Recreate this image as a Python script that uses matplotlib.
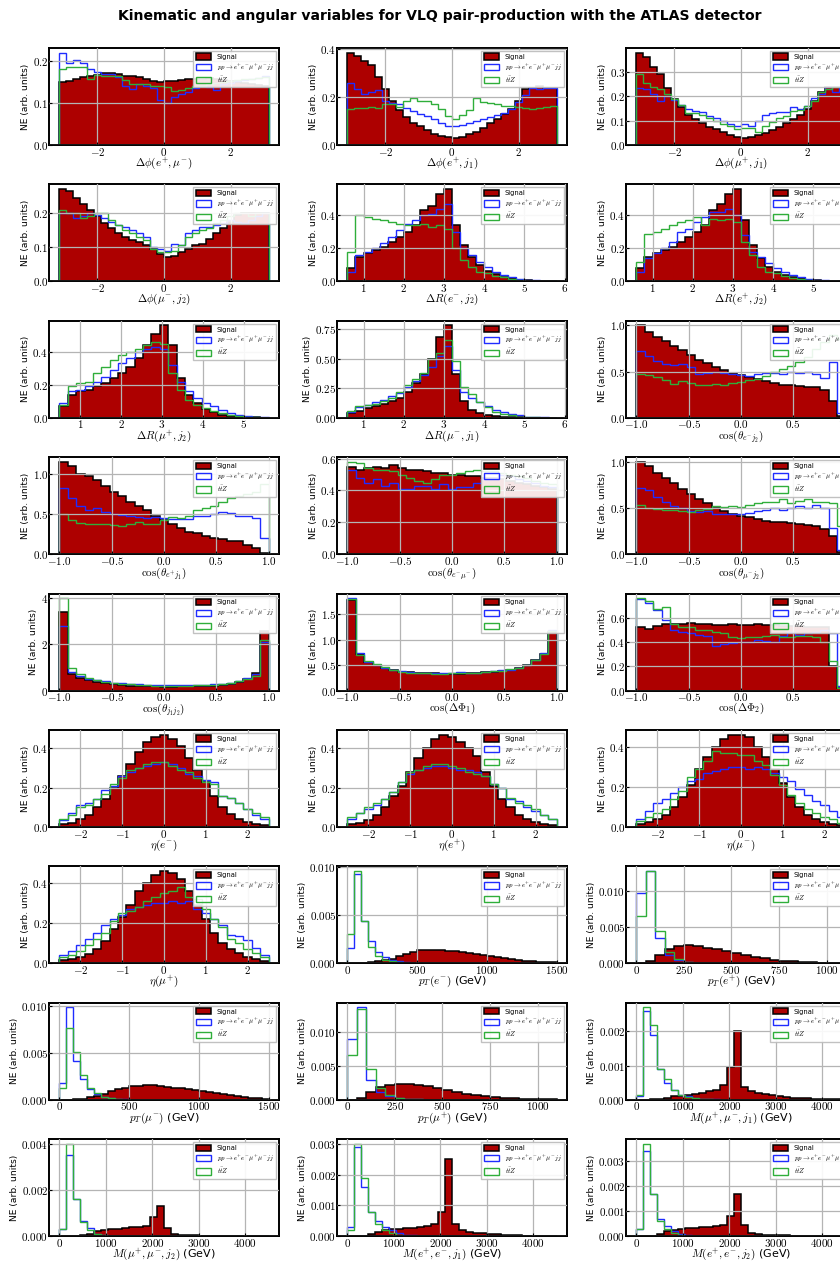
import numpy as np
import matplotlib
matplotlib.use("Agg")
import matplotlib.pyplot as plt
import matplotlib.ticker as mticker

plt.rcParams["mathtext.fontset"] = "cm"
plt.rcParams["font.family"] = "DejaVu Sans"

# ---------------------------------------------------------------- data
# Delta phi (30 bins on [-pi, pi])
sig_dphi_ep_mum = [0.149,0.153,0.158,0.161,0.165,0.166,0.172,0.172,0.170,0.165,0.165,0.161,0.157,0.153,0.150,
                   0.153,0.153,0.155,0.157,0.157,0.158,0.160,0.158,0.155,0.152,0.150,0.148,0.145,0.143,0.140]
zz_dphi_ep_mum = [0.220,0.196,0.202,0.196,0.180,0.174,0.170,0.169,0.161,0.141,0.133,0.145,0.140,0.135,0.108,
                  0.100,0.114,0.122,0.127,0.135,0.141,0.138,0.132,0.145,0.148,0.152,0.155,0.158,0.160,0.165]
ttz_dphi_ep_mum = [0.180,0.185,0.186,0.185,0.157,0.167,0.165,0.165,0.165,0.155,0.145,0.145,0.145,0.140,0.140,
                   0.138,0.129,0.130,0.135,0.140,0.140,0.145,0.148,0.150,0.152,0.155,0.157,0.158,0.160,0.162]

sig_dphi_ep_j1 = [0.386,0.372,0.352,0.334,0.283,0.234,0.182,0.145,0.117,0.094,0.080,0.062,0.048,0.039,0.032,
                  0.030,0.034,0.044,0.055,0.072,0.090,0.110,0.131,0.152,0.182,0.234,0.240,0.245,0.240,0.240]
zz_dphi_ep_j1 = [0.260,0.235,0.215,0.220,0.230,0.185,0.175,0.170,0.155,0.140,0.130,0.120,0.110,0.090,0.080,
                 0.080,0.085,0.090,0.100,0.110,0.115,0.125,0.135,0.150,0.180,0.210,0.240,0.235,0.240,0.240]
ttz_dphi_ep_j1 = [0.150,0.155,0.155,0.160,0.155,0.170,0.170,0.160,0.185,0.195,0.185,0.185,0.170,0.150,0.120,
                  0.110,0.125,0.145,0.195,0.180,0.175,0.170,0.165,0.165,0.160,0.155,0.150,0.155,0.160,0.165]

sig_dphi_mup_j1 = [0.380,0.360,0.320,0.290,0.235,0.190,0.155,0.125,0.105,0.090,0.075,0.065,0.052,0.042,0.033,
                   0.030,0.032,0.040,0.050,0.062,0.075,0.090,0.105,0.125,0.150,0.180,0.220,0.240,0.240,0.240]
zz_dphi_mup_j1 = [0.235,0.230,0.210,0.180,0.200,0.185,0.165,0.150,0.140,0.135,0.120,0.110,0.100,0.085,0.080,
                  0.085,0.080,0.100,0.125,0.130,0.135,0.135,0.155,0.150,0.160,0.195,0.210,0.240,0.220,0.240]
ttz_dphi_mup_j1 = [0.290,0.255,0.240,0.230,0.210,0.190,0.165,0.130,0.130,0.125,0.110,0.100,0.085,0.080,0.065,
                   0.070,0.070,0.055,0.080,0.095,0.110,0.120,0.140,0.145,0.160,0.180,0.220,0.230,0.240,0.240]

sig_dphi_mum_j2 = [0.270,0.265,0.245,0.225,0.210,0.190,0.170,0.155,0.140,0.130,0.120,0.115,0.105,0.095,0.080,
                   0.072,0.075,0.085,0.095,0.105,0.110,0.125,0.140,0.155,0.175,0.195,0.200,0.200,0.200,0.200]
zz_dphi_mum_j2 = [0.200,0.200,0.185,0.190,0.200,0.195,0.185,0.175,0.165,0.160,0.150,0.140,0.130,0.100,0.095,
                  0.090,0.110,0.105,0.140,0.150,0.160,0.160,0.165,0.170,0.180,0.175,0.170,0.180,0.190,0.200]
ttz_dphi_mum_j2 = [0.210,0.200,0.200,0.185,0.190,0.200,0.200,0.180,0.165,0.150,0.140,0.130,0.120,0.095,0.085,
                   0.085,0.090,0.105,0.130,0.140,0.150,0.155,0.170,0.180,0.190,0.200,0.200,0.190,0.200,0.200]

# Delta R
sig_dr_em_j2 = [0.08,0.15,0.17,0.19,0.21,0.24,0.27,0.30,0.34,0.43,0.46,0.53,0.56,
                0.34,0.22,0.15,0.10,0.064,0.044,0.028,0.018,0.010,0.006,0.003,0.002,0.001]
zz_dr_em_j2 = [0.06,0.16,0.18,0.20,0.23,0.27,0.31,0.35,0.37,0.40,0.41,0.44,0.47,
               0.30,0.20,0.16,0.12,0.09,0.06,0.04,0.025,0.015,0.010,0.006,0.003,0.002]
ttz_dr_em_j2 = [0.18,0.40,0.39,0.38,0.37,0.36,0.35,0.34,0.34,0.35,0.33,0.34,0.32,
                0.20,0.13,0.09,0.06,0.05,0.035,0.025,0.015,0.010,0.005,0.003,0.002,0.001]

sig_dr_ep_j2 = [0.08,0.15,0.17,0.19,0.21,0.24,0.27,0.30,0.34,0.43,0.47,0.53,0.56,
                0.37,0.22,0.14,0.09,0.06,0.04,0.028,0.018,0.010,0.006,0.004,0.002,0.001]
zz_dr_ep_j2 = [0.06,0.14,0.17,0.20,0.24,0.30,0.32,0.36,0.39,0.42,0.42,0.44,0.40,
               0.28,0.18,0.15,0.11,0.08,0.06,0.04,0.025,0.015,0.010,0.006,0.003,0.002]
ttz_dr_ep_j2 = [0.12,0.29,0.30,0.32,0.34,0.36,0.37,0.39,0.34,0.38,0.37,0.38,0.36,
                0.24,0.16,0.09,0.06,0.05,0.03,0.02,0.015,0.010,0.005,0.003,0.002,0.001]

sig_dr_mup_j2 = [0.07,0.14,0.16,0.17,0.19,0.21,0.24,0.27,0.31,0.36,0.44,0.51,0.56,
                 0.44,0.24,0.14,0.09,0.055,0.035,0.020,0.012,0.007,0.004,0.002,0.001]
zz_dr_mup_j2 = [0.09,0.16,0.17,0.19,0.22,0.25,0.29,0.33,0.36,0.40,0.42,0.43,0.42,
                0.32,0.22,0.16,0.12,0.09,0.07,0.05,0.03,0.015,0.008,0.005,0.002]
ttz_dr_mup_j2 = [0.08,0.19,0.21,0.22,0.27,0.31,0.35,0.38,0.40,0.42,0.44,0.46,0.45,
                 0.27,0.17,0.11,0.08,0.06,0.04,0.03,0.02,0.012,0.006,0.003,0.001]

sig_dr_mum_j1 = [0.04,0.06,0.08,0.10,0.12,0.14,0.17,0.22,0.29,0.37,0.50,0.68,0.78,
                 0.37,0.14,0.07,0.04,0.025,0.015,0.010,0.006,0.004,0.002,0.001,0.0005,0.0]
zz_dr_mum_j1 = [0.05,0.09,0.11,0.13,0.15,0.18,0.21,0.26,0.31,0.36,0.43,0.52,0.61,
                0.40,0.22,0.17,0.13,0.10,0.07,0.05,0.03,0.02,0.01,0.005,0.003,0.001]
ttz_dr_mum_j1 = [0.06,0.10,0.11,0.12,0.14,0.17,0.22,0.28,0.33,0.38,0.50,0.55,0.66,
                 0.48,0.26,0.20,0.13,0.09,0.05,0.035,0.02,0.01,0.006,0.003,0.001,0.0]

# cosines (25 bins on [-1, 1])
sig_cos_em_j2 = [1.00,0.93,0.87,0.83,0.78,0.73,0.68,0.63,0.59,0.55,0.52,0.49,0.46,0.44,0.42,0.40,0.38,0.36,
                 0.35,0.34,0.33,0.33,0.30,0.18,0.02]
zz_cos_em_j2 = [0.72,0.67,0.62,0.58,0.57,0.58,0.55,0.47,0.48,0.50,0.49,0.47,0.46,0.45,0.47,0.48,0.48,0.47,
                0.50,0.49,0.50,0.47,0.43,0.60,0.05]
ttz_cos_em_j2 = [0.47,0.46,0.44,0.41,0.37,0.40,0.38,0.36,0.35,0.37,0.36,0.38,0.39,0.41,0.42,0.45,0.50,0.53,
                 0.56,0.60,0.66,0.75,0.82,0.90,0.85]

sig_cos_ep_j1 = [1.15,1.10,1.00,0.97,0.92,0.85,0.78,0.72,0.65,0.60,0.55,0.47,0.42,0.37,0.33,0.28,0.26,0.23,
                 0.20,0.19,0.17,0.16,0.12,0.08,0.02]
zz_cos_ep_j1 = [0.83,0.70,0.60,0.55,0.58,0.52,0.50,0.49,0.48,0.46,0.45,0.46,0.45,0.44,0.44,0.44,0.48,0.47,
                0.50,0.52,0.51,0.48,0.47,0.45,0.20]
ttz_cos_ep_j1 = [0.50,0.42,0.39,0.38,0.38,0.37,0.36,0.35,0.38,0.40,0.38,0.37,0.43,0.46,0.45,0.47,0.55,0.58,
                 0.60,0.65,0.70,0.72,0.75,0.77,0.87]

sig_cos_em_mum = [0.55,0.53,0.54,0.55,0.54,0.56,0.54,0.53,0.53,0.52,0.51,0.51,0.50,0.50,0.49,0.49,0.48,0.48,
                  0.47,0.46,0.45,0.44,0.43,0.42,0.41]
zz_cos_em_mum = [0.53,0.48,0.45,0.47,0.43,0.45,0.41,0.41,0.43,0.43,0.41,0.44,0.41,0.42,0.42,0.45,0.47,0.48,
                 0.50,0.49,0.47,0.46,0.45,0.43,0.42]
ttz_cos_em_mum = [0.58,0.57,0.54,0.53,0.53,0.52,0.50,0.48,0.46,0.45,0.47,0.50,0.50,0.51,0.52,0.53,0.52,0.52,
                  0.51,0.50,0.49,0.48,0.46,0.45,0.44]

sig_cos_mum_j2 = [1.00,0.95,0.88,0.82,0.77,0.71,0.65,0.60,0.55,0.50,0.47,0.44,0.41,0.40,0.38,0.36,0.35,0.35,
                  0.34,0.33,0.32,0.30,0.27,0.20,0.02]
zz_cos_mum_j2 = [0.72,0.70,0.62,0.56,0.52,0.50,0.47,0.46,0.47,0.44,0.43,0.43,0.44,0.45,0.47,0.48,0.50,0.48,
                 0.50,0.52,0.50,0.53,0.50,0.28,0.05]
ttz_cos_mum_j2 = [0.53,0.50,0.49,0.48,0.48,0.47,0.46,0.48,0.49,0.52,0.51,0.52,0.51,0.53,0.55,0.57,0.56,0.60,
                  0.55,0.58,0.60,0.56,0.57,0.55,0.30]

sig_cos_j1_j2 = [3.40,0.70,0.55,0.45,0.37,0.32,0.28,0.25,0.22,0.20,0.19,0.18,0.17,0.17,0.18,0.18,0.19,0.20,
                 0.22,0.25,0.30,0.37,0.50,0.75,2.60]
zz_cos_j1_j2 = [2.80,0.80,0.65,0.52,0.45,0.40,0.35,0.33,0.30,0.28,0.26,0.25,0.25,0.25,0.24,0.25,0.25,0.26,
                0.28,0.30,0.35,0.42,0.55,0.70,2.10]
ttz_cos_j1_j2 = [4.00,1.00,0.70,0.55,0.45,0.38,0.33,0.30,0.27,0.25,0.23,0.22,0.22,0.22,0.22,0.22,0.23,0.24,
                 0.26,0.28,0.33,0.40,0.52,0.65,2.20]

sig_cos_dphi1 = [1.78,0.72,0.57,0.50,0.44,0.40,0.37,0.36,0.35,0.34,0.34,0.33,0.33,0.33,0.34,0.35,0.36,0.37,
                 0.39,0.41,0.44,0.50,0.60,0.72,1.15]
zz_cos_dphi1 = [1.82,0.74,0.56,0.50,0.45,0.40,0.38,0.37,0.35,0.35,0.34,0.35,0.34,0.36,0.35,0.35,0.37,0.38,
                0.40,0.41,0.45,0.50,0.60,0.75,1.20]
ttz_cos_dphi1 = [1.80,0.70,0.58,0.52,0.46,0.41,0.37,0.35,0.34,0.34,0.33,0.33,0.34,0.34,0.35,0.35,0.36,0.38,
                 0.39,0.42,0.45,0.51,0.61,0.73,1.18]

sig_cos_dphi2 = [0.52,0.51,0.53,0.55,0.55,0.55,0.56,0.55,0.55,0.54,0.54,0.55,0.54,0.54,0.55,0.54,0.54,0.53,
                 0.53,0.53,0.52,0.52,0.52,0.20,0.02]
zz_cos_dphi2 = [0.75,0.72,0.66,0.58,0.50,0.48,0.47,0.46,0.45,0.37,0.38,0.39,0.40,0.40,0.42,0.41,0.40,0.45,
                0.48,0.46,0.47,0.48,0.50,0.47,0.04]
ttz_cos_dphi2 = [0.76,0.74,0.67,0.69,0.55,0.52,0.52,0.50,0.50,0.48,0.47,0.44,0.43,0.44,0.44,0.45,0.46,0.44,
                 0.44,0.45,0.45,0.44,0.40,0.24,0.02]

# pseudorapidity (25 bins on [-2.5, 2.5])
sig_eta_em = [0.015,0.020,0.040,0.060,0.100,0.140,0.200,0.260,0.320,0.380,0.430,0.460,0.470,0.450,0.410,
              0.350,0.290,0.230,0.160,0.100,0.065,0.040,0.025,0.015,0.010]
zz_eta_em = [0.035,0.070,0.110,0.120,0.140,0.190,0.210,0.260,0.280,0.300,0.310,0.320,0.330,0.320,0.300,
             0.270,0.260,0.240,0.230,0.160,0.150,0.120,0.090,0.060,0.040]
ttz_eta_em = [0.040,0.060,0.100,0.110,0.140,0.170,0.220,0.250,0.290,0.300,0.320,0.330,0.330,0.310,0.290,
              0.280,0.250,0.230,0.220,0.160,0.150,0.120,0.090,0.070,0.050]

sig_eta_ep = [0.015,0.020,0.035,0.060,0.100,0.160,0.210,0.280,0.350,0.400,0.450,0.470,0.460,0.430,0.400,
              0.360,0.280,0.210,0.140,0.100,0.060,0.040,0.025,0.015,0.010]
zz_eta_ep = [0.040,0.070,0.090,0.110,0.140,0.180,0.230,0.270,0.290,0.300,0.310,0.310,0.300,0.290,0.290,
             0.280,0.260,0.220,0.200,0.140,0.130,0.100,0.080,0.060,0.040]
ttz_eta_ep = [0.050,0.070,0.100,0.120,0.140,0.180,0.230,0.280,0.290,0.310,0.320,0.320,0.310,0.300,0.280,
              0.270,0.260,0.220,0.200,0.150,0.120,0.110,0.090,0.060,0.040]

sig_eta_mum = [0.015,0.025,0.040,0.060,0.100,0.150,0.210,0.290,0.350,0.400,0.440,0.460,0.460,0.450,0.400,
               0.350,0.290,0.220,0.150,0.100,0.060,0.040,0.025,0.015,0.010]
zz_eta_mum = [0.040,0.080,0.120,0.140,0.170,0.200,0.230,0.240,0.270,0.280,0.290,0.300,0.300,0.290,0.300,
              0.290,0.270,0.250,0.230,0.190,0.160,0.130,0.110,0.080,0.050]
ttz_eta_mum = [0.030,0.050,0.070,0.090,0.140,0.180,0.250,0.290,0.330,0.380,0.370,0.370,0.360,0.360,0.330,
               0.310,0.260,0.210,0.160,0.120,0.090,0.070,0.050,0.040,0.020]

sig_eta_mup = [0.015,0.020,0.030,0.045,0.070,0.110,0.170,0.230,0.290,0.360,0.400,0.440,0.460,0.450,0.420,
               0.360,0.290,0.220,0.150,0.100,0.070,0.050,0.030,0.020,0.010]
zz_eta_mup = [0.040,0.060,0.090,0.120,0.150,0.190,0.220,0.240,0.270,0.280,0.290,0.300,0.300,0.310,0.300,
              0.310,0.270,0.250,0.220,0.190,0.143,0.136,0.115,0.077,0.040]
ttz_eta_mup = [0.030,0.040,0.060,0.090,0.120,0.150,0.210,0.250,0.260,0.280,0.310,0.330,0.350,0.360,0.380,
               0.330,0.320,0.270,0.220,0.180,0.120,0.100,0.070,0.050,0.030]

# transverse momenta
sig_pt_em = [0.0,0.00001,0.00004,0.0001,0.0002,0.00035,0.0005,0.0008,0.001,0.0012,0.00135,0.0014,0.0014,
             0.00138,0.00132,0.00125,0.00115,0.00105,0.00095,0.00085,0.00075,0.00065,0.00055,0.00045,
             0.00038,0.0003,0.00024,0.00018,0.00013,0.0001]
zz_pt_em = [0.0016,0.0093,0.0044,0.0023,0.0012,0.0007,0.0004,0.0002,0.0001,0.00006,0.00003,0.00002,0.00001,
            0,0,0,0,0,0,0,0,0,0,0,0,0,0,0,0,0]
ttz_pt_em = [0.0031,0.0096,0.0044,0.0017,0.0008,0.0004,0.0002,0.0001,0.00005,0.00002,0.00001,0,0,
             0,0,0,0,0,0,0,0,0,0,0,0,0,0,0,0,0]

sig_pt_ep = [0.0,0.0003,0.0012,0.002,0.0024,0.0025,0.0024,0.0022,0.002,0.0017,0.0014,0.0011,0.0009,0.0007,
             0.0005,0.0004,0.0003,0.0002,0.00015,0.0001,0.00007,0.00005]
zz_pt_ep = [0.0098,0.0128,0.0035,0.0012,0.0005,0.0002,0.0001,0.00005,0.00002,0,0,0,0,0,0,0,0,0,0,0,0,0]
ttz_pt_ep = [0.0065,0.0128,0.0045,0.0016,0.0006,0.0002,0.0001,0.00005,0.00002,0,0,0,0,0,0,0,0,0,0,0,0,0]

sig_pt_mum = [0.0,0.00002,0.00005,0.00012,0.00025,0.0004,0.0006,0.0009,0.0011,0.0013,0.00145,0.0015,0.0016,
              0.00155,0.0015,0.0014,0.0013,0.0012,0.0011,0.001,0.0009,0.0008,0.0007,0.0006,0.0005,0.0004,
              0.0003,0.00022,0.00015,0.0001]
zz_pt_mum = [0.0018,0.0098,0.0041,0.0022,0.0011,0.0006,0.0003,0.00015,0.0001,0.00005,0.00002,0,0,
             0,0,0,0,0,0,0,0,0,0,0,0,0,0,0,0,0]
ttz_pt_mum = [0.0012,0.0076,0.0051,0.0026,0.0012,0.0007,0.0003,0.00015,0.00008,0.00003,0.00001,0,0,
              0,0,0,0,0,0,0,0,0,0,0,0,0,0,0,0,0]

sig_pt_mup = [0.0,0.0003,0.0012,0.0019,0.0022,0.0023,0.0023,0.0022,0.002,0.0017,0.0014,0.0011,0.0009,0.0007,
              0.00055,0.0004,0.0003,0.0002,0.00015,0.0001,0.00007,0.00005]
zz_pt_mup = [0.009,0.0137,0.003,0.0012,0.0006,0.0003,0.00015,0.0001,0.00004,0,0,0,0,0,0,0,0,0,0,0,0,0]
ttz_pt_mup = [0.0067,0.0135,0.0045,0.0018,0.0007,0.0003,0.00015,0.00006,0.00002,0,0,0,0,0,0,0,0,0,0,0,0,0]

# invariant masses (30 bins on [0, 4500])
sig_m_mumu_j1 = [0,0,0.00001,0.00003,0.00006,0.0001,0.00012,0.00015,0.00018,0.0002,0.00025,0.0003,0.00042,
                 0.00095,0.002,0.00037,0.00026,0.0002,0.00016,0.00013,0.0001,0.00008,0.00006,0.00005,
                 0.00004,0.00003,0.00002,0.000015,0.00001,0.00001]
zz_m_mumu_j1 = [0.0001,0.0026,0.0019,0.0009,0.0005,0.0003,0.00015,0.0001,0.00005,0.00003,0.00002,0.00001,0,0,0,
                0,0,0,0,0,0,0,0,0,0,0,0,0,0,0]
ttz_m_mumu_j1 = [0.00013,0.0027,0.0022,0.0009,0.0006,0.0003,0.00015,0.00008,0.00004,0.00002,0.00001,0,0,0,0,
                 0,0,0,0,0,0,0,0,0,0,0,0,0,0,0]

sig_m_mumu_j2 = [0,0,0.00001,0.00004,0.0001,0.00022,0.00027,0.0003,0.00033,0.00036,0.00039,0.00041,0.00044,
                 0.00083,0.0013,0.00036,0.00008,0.00006,0.00005,0.00004,0.00003,0.00003,0.00002,0.00002,
                 0.00001,0.00001,0.00001,0.000005,0.000005,0.000005]
zz_m_mumu_j2 = [0.0003,0.0035,0.0016,0.00065,0.00035,0.0001,0.00005,0.00003,0.00002,0.00001,0,0,0,0,0,
                0,0,0,0,0,0,0,0,0,0,0,0,0,0,0]
ttz_m_mumu_j2 = [0.0003,0.0040,0.0016,0.0006,0.00025,0.0001,0.00005,0.00002,0.00001,0,0,0,0,0,0,
                 0,0,0,0,0,0,0,0,0,0,0,0,0,0,0]

sig_m_ee_j1 = [0,0,0.00002,0.00008,0.00015,0.0002,0.00022,0.00024,0.00026,0.00028,0.0003,0.00032,0.00038,
               0.0008,0.0025,0.0004,0.0002,0.00015,0.00012,0.0001,0.00008,0.00006,0.00005,0.00004,
               0.00003,0.00002,0.00002,0.00001,0.00001,0.00001]
zz_m_ee_j1 = [0.0003,0.0029,0.0016,0.0008,0.0005,0.0003,0.0002,0.0001,0.00005,0.00003,0.00001,0,0,0,0,
              0,0,0,0,0,0,0,0,0,0,0,0,0,0,0]
ttz_m_ee_j1 = [0.0002,0.0030,0.0019,0.0008,0.0004,0.0002,0.0001,0.00005,0.00002,0.00001,0,0,0,0,0,
               0,0,0,0,0,0,0,0,0,0,0,0,0,0,0]

sig_m_ee_j2 = [0,0,0.00002,0.0001,0.0002,0.00026,0.0003,0.00032,0.00034,0.00036,0.00038,0.0004,0.00045,
               0.0008,0.0017,0.00045,0.00012,0.00008,0.00006,0.00005,0.00004,0.00003,0.00002,0.00002,
               0.00001,0.00001,0.00001,0.000005,0.000005,0.000005]
zz_m_ee_j2 = [0.0003,0.0034,0.0017,0.0007,0.0004,0.0002,0.0001,0.00005,0.00002,0.00001,0,0,0,0,0,
              0,0,0,0,0,0,0,0,0,0,0,0,0,0,0]
ttz_m_ee_j2 = [0.0003,0.0037,0.0017,0.0006,0.0003,0.00012,0.00005,0.00002,0.00001,0,0,0,0,0,0,
               0,0,0,0,0,0,0,0,0,0,0,0,0,0,0]

# ------------------------------------------------------------ binning
PI = np.pi
panels = [
    (r"$\Delta\phi(e^{+},\mu^{-})$", (-PI, PI), sig_dphi_ep_mum, zz_dphi_ep_mum, ttz_dphi_ep_mum),
    (r"$\Delta\phi(e^{+},j_{1})$", (-PI, PI), sig_dphi_ep_j1, zz_dphi_ep_j1, ttz_dphi_ep_j1),
    (r"$\Delta\phi(\mu^{+},j_{1})$", (-PI, PI), sig_dphi_mup_j1, zz_dphi_mup_j1, ttz_dphi_mup_j1),
    (r"$\Delta\phi(\mu^{-},j_{2})$", (-PI, PI), sig_dphi_mum_j2, zz_dphi_mum_j2, ttz_dphi_mum_j2),
    (r"$\Delta R(e^{-},j_{2})$", (0.6, 5.8), sig_dr_em_j2, zz_dr_em_j2, ttz_dr_em_j2),
    (r"$\Delta R(e^{+},j_{2})$", (0.6, 5.8), sig_dr_ep_j2, zz_dr_ep_j2, ttz_dr_ep_j2),
    (r"$\Delta R(\mu^{+},j_{2})$", (0.5, 5.6), sig_dr_mup_j2, zz_dr_mup_j2, ttz_dr_mup_j2),
    (r"$\Delta R(\mu^{-},j_{1})$", (0.6, 5.8), sig_dr_mum_j1, zz_dr_mum_j1, ttz_dr_mum_j1),
    (r"$\cos(\theta_{e^{-}j_{2}})$", (-1, 1), sig_cos_em_j2, zz_cos_em_j2, ttz_cos_em_j2),
    (r"$\cos(\theta_{e^{+}j_{1}})$", (-1, 1), sig_cos_ep_j1, zz_cos_ep_j1, ttz_cos_ep_j1),
    (r"$\cos(\theta_{e^{-}\mu^{-}})$", (-1, 1), sig_cos_em_mum, zz_cos_em_mum, ttz_cos_em_mum),
    (r"$\cos(\theta_{\mu^{-}j_{2}})$", (-1, 1), sig_cos_mum_j2, zz_cos_mum_j2, ttz_cos_mum_j2),
    (r"$\cos(\theta_{j_{1}j_{2}})$", (-1, 1), sig_cos_j1_j2, zz_cos_j1_j2, ttz_cos_j1_j2),
    (r"$\cos(\Delta\Phi_{1})$", (-1, 1), sig_cos_dphi1, zz_cos_dphi1, ttz_cos_dphi1),
    (r"$\cos(\Delta\Phi_{2})$", (-1, 1), sig_cos_dphi2, zz_cos_dphi2, ttz_cos_dphi2),
    (r"$\eta(e^{-})$", (-2.5, 2.5), sig_eta_em, zz_eta_em, ttz_eta_em),
    (r"$\eta(e^{+})$", (-2.5, 2.5), sig_eta_ep, zz_eta_ep, ttz_eta_ep),
    (r"$\eta(\mu^{-})$", (-2.5, 2.5), sig_eta_mum, zz_eta_mum, ttz_eta_mum),
    (r"$\eta(\mu^{+})$", (-2.5, 2.5), sig_eta_mup, zz_eta_mup, ttz_eta_mup),
    (r"$p_{T}(e^{-})$ (GeV)", (0, 1500), sig_pt_em, zz_pt_em, ttz_pt_em),
    (r"$p_{T}(e^{+})$ (GeV)", (0, 1100), sig_pt_ep, zz_pt_ep, ttz_pt_ep),
    (r"$p_{T}(\mu^{-})$ (GeV)", (0, 1500), sig_pt_mum, zz_pt_mum, ttz_pt_mum),
    (r"$p_{T}(\mu^{+})$ (GeV)", (0, 1100), sig_pt_mup, zz_pt_mup, ttz_pt_mup),
    (r"$M(\mu^{+},\mu^{-},j_{1})$ (GeV)", (0, 4500), sig_m_mumu_j1, zz_m_mumu_j1, ttz_m_mumu_j1),
    (r"$M(\mu^{+},\mu^{-},j_{2})$ (GeV)", (0, 4500), sig_m_mumu_j2, zz_m_mumu_j2, ttz_m_mumu_j2),
    (r"$M(e^{+},e^{-},j_{1})$ (GeV)", (0, 4500), sig_m_ee_j1, zz_m_ee_j1, ttz_m_ee_j1),
    (r"$M(e^{+},e^{-},j_{2})$ (GeV)", (0, 4500), sig_m_ee_j2, zz_m_ee_j2, ttz_m_ee_j2),
]

SIG_COLOR = "#ad0000"
ZZ_COLOR = "#1f2cff"
TTZ_COLOR = "#2fae3a"


class CMFormatter(mticker.ScalarFormatter):
    """Scalar tick labels typeset in Computer Modern."""

    def __call__(self, x, pos=None):
        s = super().__call__(x, pos)
        if not s:
            return s
        return "$" + s.replace("\u2212", "-") + "$"


W, H = 840, 1261
fig = plt.figure(figsize=(W / 100, H / 100), dpi=100)
fig.text(440 / W, 1 - 16 / H,
         "Kinematic and angular variables for VLQ pair-production with the ATLAS detector",
         ha="center", va="center", fontsize=10.1, fontweight="bold")

col_left = [49, 337, 626]
ax_w, ax_h = 230, 97
row_top0, row_pitch = 48, 136.4

for i, (xlabel, (lo, hi), sig, zz, ttz) in enumerate(panels):
    r, c = divmod(i, 3)
    n = len(sig)
    assert len(zz) == n and len(ttz) == n, xlabel
    edges = np.linspace(lo, hi, n + 1)
    centers = 0.5 * (edges[:-1] + edges[1:])
    top = row_top0 + r * row_pitch
    ax = fig.add_axes([col_left[c] / W, 1 - (top + ax_h) / H, ax_w / W, ax_h / H])

    ax.hist(centers, bins=edges, weights=sig, histtype="stepfilled",
            facecolor=SIG_COLOR, edgecolor="black", linewidth=1.1, label="Signal")
    ax.hist(centers, bins=edges, weights=zz, histtype="step",
            color=ZZ_COLOR, linewidth=1.0, label=r"$pp\rightarrow e^{+}e^{-}\mu^{+}\mu^{-}jj$")
    ax.hist(centers, bins=edges, weights=ttz, histtype="step",
            color=TTZ_COLOR, linewidth=1.0, label=r"$t\bar{t}Z$")

    ax.set_axisbelow(False)
    ax.grid(True, color="#b4b4b4", linewidth=0.9)
    for sp in ax.spines.values():
        sp.set_linewidth(1.4)
        sp.set_color("black")
    ax.tick_params(direction="in", length=2, width=0.8, labelsize=8, pad=0.5)
    ax.xaxis.set_major_formatter(CMFormatter(useOffset=False))
    ax.yaxis.set_major_formatter(CMFormatter(useOffset=False))
    ax.set_xlabel(xlabel, fontsize=8, labelpad=-1.5)
    ax.set_ylabel("NE (arb. units)", fontsize=6.6, labelpad=2)
    ax.legend(loc="upper right", fontsize=4.9, handlelength=2.3, handleheight=1.0,
              borderaxespad=0.4, labelspacing=0.3, framealpha=0.9, edgecolor="#bbbbbb",
              fancybox=False)

fig.savefig("out.png", dpi=100)
